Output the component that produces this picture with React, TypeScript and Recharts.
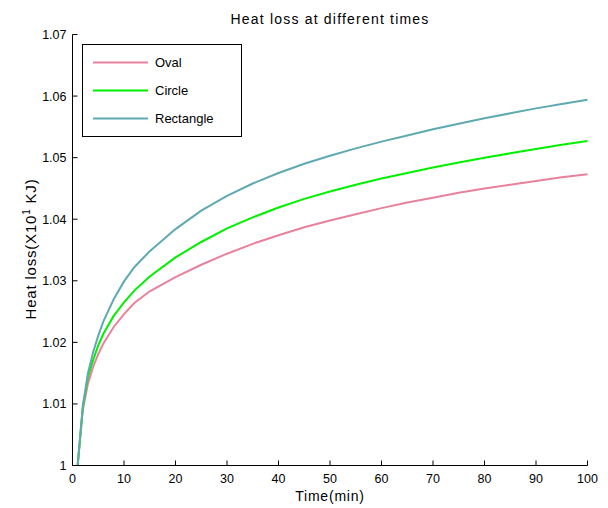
import React from 'react';
import { LineChart, Line, XAxis, YAxis, Legend } from 'recharts';

const times = [1, 2, 3, 4, 5, 6, 8, 10, 12, 15, 20, 25, 30, 35, 40, 45, 50, 55, 60, 65, 70, 75, 80, 85, 90, 95, 100];
const oval = [1.0, 1.009, 1.0133, 1.016, 1.0181, 1.0198, 1.0225, 1.0246, 1.0264, 1.0283, 1.0306, 1.0326, 1.0344, 1.036, 1.0374, 1.0387, 1.0398, 1.0408, 1.0418, 1.0427, 1.0435, 1.0443, 1.045, 1.0456, 1.0462, 1.0468, 1.0473];
const circle = [1.0, 1.0094, 1.0144, 1.0171, 1.0195, 1.0214, 1.0243, 1.0265, 1.0284, 1.0307, 1.0338, 1.0363, 1.0385, 1.0403, 1.0419, 1.0433, 1.0445, 1.0456, 1.0466, 1.0475, 1.0484, 1.0492, 1.05, 1.0507, 1.0514, 1.0521, 1.0527];
const rectangle = [1.0, 1.0097, 1.015, 1.0184, 1.0211, 1.0234, 1.027, 1.0299, 1.0322, 1.0348, 1.0384, 1.0414, 1.0438, 1.0458, 1.0475, 1.049, 1.0503, 1.0515, 1.0526, 1.0536, 1.0546, 1.0555, 1.0564, 1.0572, 1.058, 1.0587, 1.0594];

const xTicks = [0, 10, 20, 30, 40, 50, 60, 70, 80, 90, 100];
const yTicks = [1, 1.01, 1.02, 1.03, 1.04, 1.05, 1.06, 1.07];
const yTickLabels = ['1', '1.01', '1.02', '1.03', '1.04', '1.05', '1.06', '1.07'];

const seriesNames = ['Oval', 'Circle', 'Rectangle'];
const seriesColors = ['#E8829C', '#00F000', '#5EAAB0'];

const title = 'Heat loss at different times';
const xLabel = 'Time(min)';

const data = times.map((t, i) => ({ t, oval: oval[i], circle: circle[i], rectangle: rectangle[i] }));

const FONT = '"Liberation Sans", Arial, Helvetica, sans-serif';

const LegendBox = () => (
  <svg width={161} height={94} style={{ display: 'block' }}>
    <rect x={0.5} y={0.5} width={159} height={92} fill="#fff" stroke="#000" strokeWidth={1} />
    {seriesNames.map((n, i) => (
      <g key={n}>
        <line x1={11} x2={66} y1={18.5 + i * 28} y2={18.5 + i * 28} stroke={seriesColors[i]} strokeWidth={2} />
        <text x={73} y={18.5 + i * 28} dy="0.36em" fontSize={13} fontFamily={FONT} fill="#000">{n}</text>
      </g>
    ))}
  </svg>
);

export default function App() {
  return (
    <div style={{ position: 'absolute', left: 0, top: 0, width: 608, height: 508, background: '#fff' }}>
      <LineChart width={608} height={508} data={data} margin={{ top: 34.5, right: 20.5, bottom: 12.5, left: 0 }}>
        <XAxis
          xAxisId="b"
          dataKey="t"
          type="number"
          domain={[0, 100]}
          ticks={xTicks}
          height={30}
          stroke="#000"
          tickSize={-5}
          tickMargin={14}
          tick={{ fill: '#000', fontSize: 12.5, fontFamily: FONT }}
          axisLine={{ stroke: '#000' }}
          tickLine={{ stroke: '#000' }}
          label={{
            content: () => (
              <g>
                <text x={330} y={501} textAnchor="middle" fontSize={14} letterSpacing={0.8} fontFamily={FONT} fill="#000">{xLabel}</text>
                <text x={330} y={24} textAnchor="middle" fontSize={14} letterSpacing={1.2} fontFamily={FONT} fill="#000">{title}</text>
              </g>
            ),
          }}
        />
        <XAxis
          xAxisId="t"
          orientation="top"
          type="number"
          domain={[0, 100]}
          ticks={xTicks}
          height={0}
          tick={false}
          tickSize={-5}
          axisLine={{ stroke: '#000' }}
          tickLine={{ stroke: '#000' }}
        />
        <YAxis
          yAxisId="l"
          type="number"
          domain={[1, 1.07]}
          ticks={yTicks}
          width={72.5}
          tickSize={-5}
          tickMargin={11}
          tickFormatter={(v: number) => yTickLabels[yTicks.findIndex((y) => Math.abs(y - v) < 1e-9)] ?? String(v)}
          tick={{ fill: '#000', fontSize: 12.5, fontFamily: FONT }}
          axisLine={{ stroke: '#000' }}
          tickLine={{ stroke: '#000' }}
          label={{
            content: () => (
              <text x={36} y={249} transform="rotate(-90 36 249)" textAnchor="middle" fontSize={15} letterSpacing={0.8} fontFamily={FONT} fill="#000">
                Heat loss(X10<tspan dy={-6} fontSize={10}>1</tspan><tspan dy={6}> KJ)</tspan>
              </text>
            ),
          }}
        />
        <YAxis
          yAxisId="r"
          orientation="right"
          type="number"
          domain={[1, 1.07]}
          ticks={yTicks}
          width={0}
          tick={false}
          tickSize={-5}
          axisLine={{ stroke: '#000' }}
          tickLine={{ stroke: '#000' }}
        />
        <Legend
          layout="vertical"
          align="center"
          verticalAlign="middle"
          wrapperStyle={{ left: 82, top: 44, width: 161, height: 94 }}
          content={() => <LegendBox />}
        />
        <Line xAxisId="b" yAxisId="l" type="linear" dataKey="oval" name="Oval" stroke={seriesColors[0]} strokeWidth={2} dot={false} isAnimationActive={false} />
        <Line xAxisId="b" yAxisId="l" type="linear" dataKey="circle" name="Circle" stroke={seriesColors[1]} strokeWidth={2} dot={false} isAnimationActive={false} />
        <Line xAxisId="b" yAxisId="l" type="linear" dataKey="rectangle" name="Rectangle" stroke={seriesColors[2]} strokeWidth={2} dot={false} isAnimationActive={false} />
      </LineChart>
    </div>
  );
}
